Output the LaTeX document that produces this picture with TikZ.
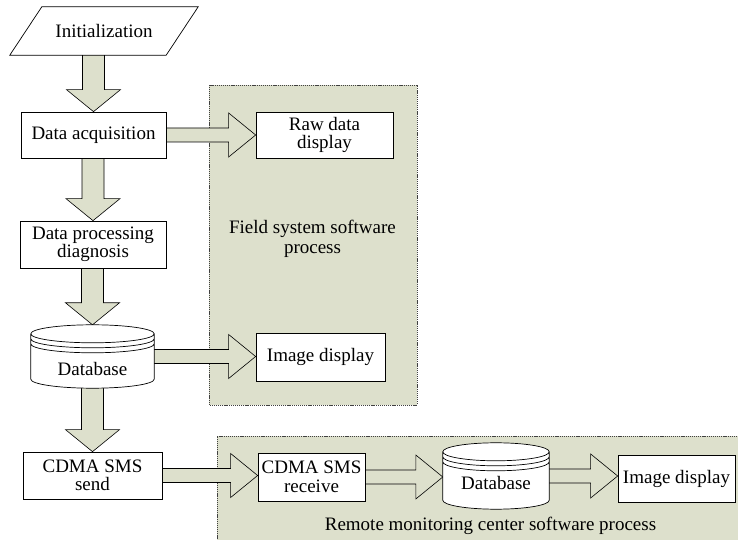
\documentclass[tikz,border=0pt]{standalone}
\usepackage{fontspec}
\setmainfont{Liberation Serif}
\usetikzlibrary{calc}
\definecolor{sage}{RGB}{221,224,204}
\pgfdeclarelayer{zones}
\pgfdeclarelayer{flow}
\pgfdeclarelayer{drums}
\pgfsetlayers{zones,flow,drums,main}
\newcommand\diagfont{\fontsize{19pt}{18.5pt}\selectfont}
\tikzset{
  box/.style={draw=black, fill=white, line width=0.7pt, inner sep=0pt,
    align=center, font=\diagfont},
  plain/.style={inner sep=0pt, align=center, font=\diagfont},
  zone/.style={fill=sage, draw=black!75, line width=0.6pt,
    dash pattern=on 1.2pt off 0.9pt},
  % wide block arrow pointing down, aligned on the target's centre
  downblk/.style={fill=sage, draw=black, line width=0.6pt,
    to path={let \p1=(\tikztostart), \p2=(\tikztotarget) in
      (\x2-11pt,\y1) -- (\x2-11pt,\y2+22pt) -- (\x2-27pt,\y2+22pt)
      -- (\x2,\y2) -- (\x2+27pt,\y2+22pt) -- (\x2+11pt,\y2+22pt)
      -- (\x2+11pt,\y1)}},
  % wide block arrow pointing right, at the source's height
  rightblk/.style={fill=sage, draw=black, line width=0.6pt,
    to path={let \p1=(\tikztostart), \p2=(\tikztotarget) in
      (\x1,\y1+7pt) -- (\x2-27pt,\y1+7pt) -- (\x2-27pt,\y1+22pt)
      -- (\x2,\y1) -- (\x2-27pt,\y1-22pt) -- (\x2-27pt,\y1-7pt)
      -- (\x1,\y1-7pt)}},
}
% database drum drawn around a named node
\newcommand\dbshape[1]{%
  \draw[fill=white, line width=0.7pt]
    let \p1=(#1.north west), \p2=(#1.south east), \n1={(\x2-\x1)/2} in
    (\x1,\y1-9pt) -- (\x1,\y2+9pt)
      arc[start angle=180, end angle=360, x radius=\n1, y radius=9pt]
      -- (\x2,\y1-9pt)
      arc[start angle=0, end angle=180, x radius=\n1, y radius=9pt] -- cycle
    (\x1,\y1-9pt) arc[start angle=180, end angle=360, x radius=\n1, y radius=9pt]
    (\x1,\y1-14pt) arc[start angle=180, end angle=360, x radius=\n1, y radius=9pt]
    (\x1,\y1-19pt) arc[start angle=180, end angle=360, x radius=\n1, y radius=9pt];}

\begin{document}
\begin{tikzpicture}[x=1pt, y=1pt]
\useasboundingbox (0,0) rectangle (738,540);

\begin{pgfonlayer}{zones}
  \fill[white] (0,0) rectangle (738,540);
  \path[zone] (209,135) rectangle (417,455);
  \path[zone] (217,-5) rectangle (745,104);
\end{pgfonlayer}

% main column
\node[plain, minimum width=156pt, minimum height=48pt] (init) at (104,509) {Initialization};
\draw[line width=0.7pt]
  ($(init.south west)+(-16,0)$) -- ($(init.south east)+(-16,0)$)
  -- ($(init.north east)+(16,0)$) -- ($(init.north west)+(16,0)$) -- cycle;

\node[box, minimum width=145pt, minimum height=46pt] (acq) at (93.5,405) {Data acquisition};
\node[box, minimum width=146pt, minimum height=47pt] (proc) at (93,295.5) {Data processing\\diagnosis};
\node[plain, minimum width=123pt, minimum height=63pt, text height=39pt, text depth=0pt] (db1) at (92.5,183.5) {Database};
\node[box, minimum width=139pt, minimum height=47pt] (send) at (92.5,64.5) {CDMA SMS\\send};

% field system side
\node[box, minimum width=137pt, minimum height=46pt] (raw) at (324.5,405) {Raw data\\display};
\node[box, minimum width=129pt, minimum height=48pt] (img1) at (320.5,183) {Image display};
\node[plain, font=\fontsize{19pt}{20pt}\selectfont] (fieldlbl) at (312.5,301.5) {Field system software\\process};

% remote monitoring side
\node[box, minimum width=107pt, minimum height=48pt] (recv) at (311.5,63) {CDMA SMS\\receive};
\node[plain, minimum width=106pt, minimum height=66pt, text height=28pt, text depth=0pt] (db2) at (496,64) {Database};
\node[box, minimum width=117pt, minimum height=47pt] (img2) at (676.5,61.5) {Image display};
\node[plain, anchor=base] (remotelbl) at (490.5,9) {Remote monitoring center software process};

\begin{pgfonlayer}{drums}
  \dbshape{db1}
  \dbshape{db2}
\end{pgfonlayer}

\begin{pgfonlayer}{flow}
  \path[downblk] (init.south) to (acq.north);
  \path[downblk] (acq.south) to (proc.north);
  \path[downblk] (proc.south) to (db1.north);
  \path[downblk] (db1.south) to (send.north);
  \path[rightblk] (acq.east) to (raw.west);
  \path[rightblk] (db1.east) to (img1.west);
  \path[rightblk] (send.east) to (recv.west);
  \path[rightblk] (recv.east) to (db2.west);
  \path[rightblk] (db2.east) to (img2.west);
\end{pgfonlayer}
\end{tikzpicture}
\end{document}
